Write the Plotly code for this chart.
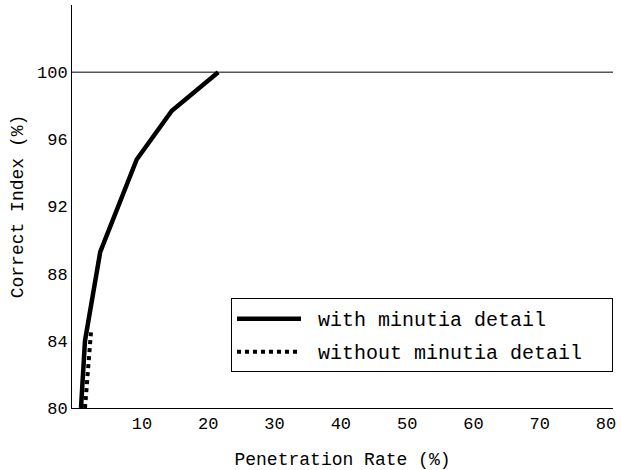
import plotly.graph_objects as go

with_x = [0.8, 1.4, 3.7, 9.2, 14.5, 21.5]
with_y = [80.0, 84.0, 89.3, 94.8, 97.7, 100.0]
without_x = [1.4, 2.3]
without_y = [80.0, 84.5]
x_ticks = [10, 20, 30, 40, 50, 60, 70, 80]
y_ticks = [80, 84, 88, 92, 96, 100]

font = "Liberation Mono, Courier New, monospace"
pad = "\u00a0"

fig = go.Figure()
fig.add_trace(go.Scatter(x=with_x, y=with_y, mode="lines", name=pad + "with minutia detail",
                         legendgroup="a",
                         line=dict(color="black", width=4.5)))
fig.add_trace(go.Scatter(x=without_x, y=without_y, mode="lines",
                         name=pad + "without minutia detail" + pad * 2,
                         legendgroup="b",
                         line=dict(color="black", width=4, dash="dot")))
fig.add_shape(type="line", xref="paper", yref="y", x0=0, x1=1, y0=100, y1=100,
              line=dict(color="black", width=1))

fig.update_layout(
    width=621, height=470,
    margin=dict(l=72, r=8, t=5, b=62),
    plot_bgcolor="white", paper_bgcolor="white",
    font=dict(family=font, color="black", size=17),
    showlegend=True,
    legend=dict(x=1.0, y=0.089, xanchor="right", yanchor="bottom",
                bordercolor="black", borderwidth=1, bgcolor="white",
                font=dict(size=20, family=font), itemwidth=64,
                tracegroupgap=4),
    xaxis=dict(range=[-0.56, 81.06], tickvals=x_ticks, showgrid=False, zeroline=False,
               showline=True, linecolor="black", linewidth=1, ticks="",
               tickfont=dict(size=17),
               title=dict(text="Penetration Rate (%)", font=dict(size=18), standoff=18)),
    yaxis=dict(range=[80, 104], tickvals=y_ticks, showgrid=False, zeroline=False,
               showline=True, linecolor="black", linewidth=1, ticks="",
               tickfont=dict(size=17),
               title=dict(text="Correct Index (%)", font=dict(size=18), standoff=8)),
)

fig.write_html("out.html", config={"displayModeBar": False},
               post_script="document.body.style.margin='0';")
